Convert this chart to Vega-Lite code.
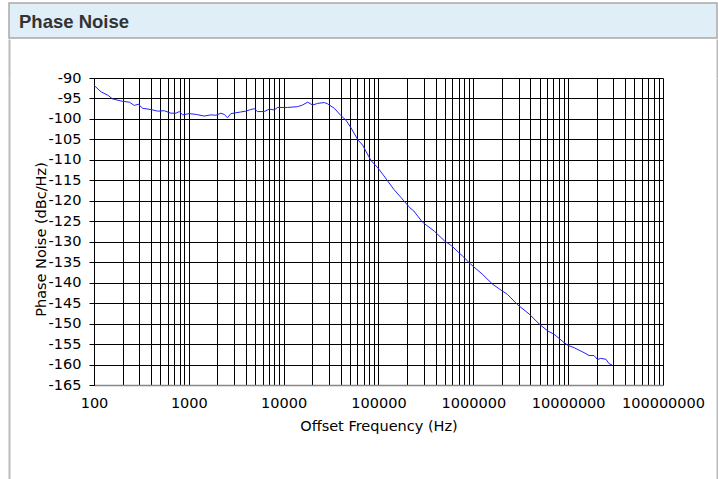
{
  "$schema": "https://vega.github.io/schema/vega-lite/v6.json",
  "background": "white",
  "padding": {"left": 8, "top": 2, "right": 0, "bottom": 0},
  "spacing": 0,
  "config": {
    "font": "DejaVu Sans",
    "view": {"stroke": null},
    "axis": {
      "labelFont": "DejaVu Sans",
      "labelFontSize": 14.5,
      "labelColor": "#000000",
      "titleFont": "DejaVu Sans",
      "titleFontSize": 14.5,
      "titleFontWeight": "normal",
      "titleColor": "#000000",
      "gridColor": "#000000",
      "gridOpacity": 1,
      "gridWidth": 1
    }
  },
  "vconcat": [
    {
      "width": 708,
      "height": 35,
      "view": {"fill": "#dfeef7", "stroke": "#a9a9a9", "strokeWidth": 1.5},
      "data": {"values": [{"label": "Phase Noise"}]},
      "mark": {"type": "text", "align": "left", "baseline": "middle", "dx": 10, "dy": 1, "font": "Liberation Sans", "fontSize": 18.5, "fontWeight": "bold", "color": "#333333"},
      "encoding": {
        "text": {"field": "label"},
        "x": {"datum": 0, "type": "quantitative", "scale": {"domain": [0, 1]}, "axis": null}
      }
    },
    {
      "columns": 3,
      "bounds": "flush",
      "spacing": 0,
      "concat": [
        {
          "width": 85,
          "height": 39,
          "data": {"values": []},
          "mark": "point",
          "encoding": {
            "y": {"datum": 0, "type": "quantitative", "scale": {"domain": [0, 1]}, "axis": {"orient": "left", "domain": true, "domainColor": "#bbbbbb", "domainWidth": 2, "ticks": false, "labels": false, "grid": false, "title": null}}
          }
        },
        {
          "width": 569,
          "height": 39,
          "data": {"values": []},
          "mark": "point",
          "encoding": {}
        },
        {
          "width": 54,
          "height": 39,
          "data": {"values": []},
          "mark": "point",
          "encoding": {
            "y": {"datum": 0, "type": "quantitative", "scale": {"domain": [0, 1]}, "axis": {"orient": "right", "domain": true, "domainColor": "#bbbbbb", "domainWidth": 2, "ticks": false, "labels": false, "grid": false, "title": null}}
          }
        },
        {
          "width": 85,
          "height": 403,
          "data": {"values": []},
          "mark": "point",
          "encoding": {
            "y": {"datum": 0, "type": "quantitative", "scale": {"domain": [0, 1]}, "axis": {"orient": "left", "domain": true, "domainColor": "#bbbbbb", "domainWidth": 2, "ticks": false, "labels": false, "grid": false, "title": null}}
          }
        },
        {
          "width": 569,
          "height": 307,
          "data": {"values": [
            {"freq_hz": 100, "phase_noise": -91.8},
            {"freq_hz": 119, "phase_noise": -93.4},
            {"freq_hz": 140, "phase_noise": -94.2},
            {"freq_hz": 157, "phase_noise": -95.1},
            {"freq_hz": 200, "phase_noise": -95.7},
            {"freq_hz": 236, "phase_noise": -95.9},
            {"freq_hz": 266, "phase_noise": -96.7},
            {"freq_hz": 293, "phase_noise": -96.4},
            {"freq_hz": 326, "phase_noise": -97.4},
            {"freq_hz": 399, "phase_noise": -97.7},
            {"freq_hz": 469, "phase_noise": -98.1},
            {"freq_hz": 551, "phase_noise": -98.0},
            {"freq_hz": 648, "phase_noise": -98.6},
            {"freq_hz": 731, "phase_noise": -98.6},
            {"freq_hz": 793, "phase_noise": -98.2},
            {"freq_hz": 860, "phase_noise": -99.0},
            {"freq_hz": 1010, "phase_noise": -98.7},
            {"freq_hz": 1200, "phase_noise": -98.9},
            {"freq_hz": 1450, "phase_noise": -99.3},
            {"freq_hz": 1710, "phase_noise": -99.0},
            {"freq_hz": 1930, "phase_noise": -99.1},
            {"freq_hz": 2180, "phase_noise": -98.6},
            {"freq_hz": 2360, "phase_noise": -98.9},
            {"freq_hz": 2560, "phase_noise": -99.7},
            {"freq_hz": 2780, "phase_noise": -98.7},
            {"freq_hz": 3530, "phase_noise": -98.3},
            {"freq_hz": 3990, "phase_noise": -98.1},
            {"freq_hz": 4510, "phase_noise": -97.7},
            {"freq_hz": 4890, "phase_noise": -97.5},
            {"freq_hz": 5300, "phase_noise": -98.2},
            {"freq_hz": 6240, "phase_noise": -98.2},
            {"freq_hz": 7050, "phase_noise": -97.6},
            {"freq_hz": 7950, "phase_noise": -97.8},
            {"freq_hz": 8630, "phase_noise": -97.2},
            {"freq_hz": 11000, "phase_noise": -97.2},
            {"freq_hz": 14000, "phase_noise": -97.0},
            {"freq_hz": 15800, "phase_noise": -96.6},
            {"freq_hz": 17900, "phase_noise": -95.9},
            {"freq_hz": 20200, "phase_noise": -96.6},
            {"freq_hz": 22800, "phase_noise": -96.2},
            {"freq_hz": 26800, "phase_noise": -96.0},
            {"freq_hz": 29000, "phase_noise": -96.3},
            {"freq_hz": 34200, "phase_noise": -97.4},
            {"freq_hz": 40200, "phase_noise": -99.2},
            {"freq_hz": 45400, "phase_noise": -100.3},
            {"freq_hz": 51000, "phase_noise": -102.1},
            {"freq_hz": 61000, "phase_noise": -105.2},
            {"freq_hz": 68000, "phase_noise": -106.4},
            {"freq_hz": 83000, "phase_noise": -110.1},
            {"freq_hz": 98000, "phase_noise": -111.9},
            {"freq_hz": 114000, "phase_noise": -113.9},
            {"freq_hz": 145000, "phase_noise": -117.2},
            {"freq_hz": 172600, "phase_noise": -119.2},
            {"freq_hz": 214000, "phase_noise": -121.7},
            {"freq_hz": 236000, "phase_noise": -122.5},
            {"freq_hz": 290000, "phase_noise": -125.2},
            {"freq_hz": 387000, "phase_noise": -127.4},
            {"freq_hz": 497000, "phase_noise": -129.8},
            {"freq_hz": 590000, "phase_noise": -131.0},
            {"freq_hz": 770000, "phase_noise": -133.5},
            {"freq_hz": 940000, "phase_noise": -135.5},
            {"freq_hz": 1240000, "phase_noise": -137.9},
            {"freq_hz": 1600000, "phase_noise": -140.4},
            {"freq_hz": 1900000, "phase_noise": -141.6},
            {"freq_hz": 2300000, "phase_noise": -142.9},
            {"freq_hz": 2900000, "phase_noise": -145.3},
            {"freq_hz": 3900000, "phase_noise": -147.7},
            {"freq_hz": 5000000, "phase_noise": -150.2},
            {"freq_hz": 6100000, "phase_noise": -151.8},
            {"freq_hz": 7100000, "phase_noise": -152.6},
            {"freq_hz": 8800000, "phase_noise": -154.4},
            {"freq_hz": 9900000, "phase_noise": -155.3},
            {"freq_hz": 11600000, "phase_noise": -155.9},
            {"freq_hz": 14700000, "phase_noise": -157.1},
            {"freq_hz": 16600000, "phase_noise": -157.8},
            {"freq_hz": 18700000, "phase_noise": -157.8},
            {"freq_hz": 20400000, "phase_noise": -158.8},
            {"freq_hz": 22000000, "phase_noise": -158.5},
            {"freq_hz": 25000000, "phase_noise": -158.7},
            {"freq_hz": 27000000, "phase_noise": -159.8},
            {"freq_hz": 29000000, "phase_noise": -160.1}
          ]},
          "mark": {"type": "line", "color": "#1f1fff", "strokeWidth": 1, "clip": true},
          "encoding": {
            "x": {
              "field": "freq_hz",
              "type": "quantitative",
              "scale": {"type": "log", "domain": [100, 100000000], "nice": false},
              "axis": {
                "title": "Offset Frequency (Hz)",
                "values": [100,200,300,400,500,600,700,800,900,1000,2000,3000,4000,5000,6000,7000,8000,9000,10000,20000,30000,40000,50000,60000,70000,80000,90000,100000,200000,300000,400000,500000,600000,700000,800000,900000,1000000,2000000,3000000,4000000,5000000,6000000,7000000,8000000,9000000,10000000,20000000,30000000,40000000,50000000,60000000,70000000,80000000,90000000,100000000],
                "labelExpr": "datum.value == pow(10, round(log(datum.value) / LN10)) ? toString(datum.value) : ''",
                "labelOverlap": false,
                "labelFlush": false,
                "labelBound": false,
                "ticks": false,
                "labelPadding": 11,
                "domain": true,
                "domainColor": "#888888",
                "domainWidth": 1.5,
                "titlePadding": 10
              }
            },
            "y": {
              "field": "phase_noise",
              "type": "quantitative",
              "scale": {"domain": [-165, -90], "nice": false, "zero": false},
              "axis": {
                "title": "Phase Noise (dBc/Hz)",
                "values": [-165,-160,-155,-150,-145,-140,-135,-130,-125,-120,-115,-110,-105,-100,-95,-90],
                "labelExpr": "toString(datum.value)",
                "ticks": true,
                "tickSize": 5,
                "tickColor": "#000000",
                "labelPadding": 8,
                "domain": true,
                "domainColor": "#000000",
                "titlePadding": 0,
                "titleY": 161
              }
            }
          }
        },
        {
          "width": 54,
          "height": 403,
          "data": {"values": []},
          "mark": "point",
          "encoding": {
            "y": {"datum": 0, "type": "quantitative", "scale": {"domain": [0, 1]}, "axis": {"orient": "right", "domain": true, "domainColor": "#bbbbbb", "domainWidth": 2, "ticks": false, "labels": false, "grid": false, "title": null}}
          }
        }
      ]
    }
  ]
}
